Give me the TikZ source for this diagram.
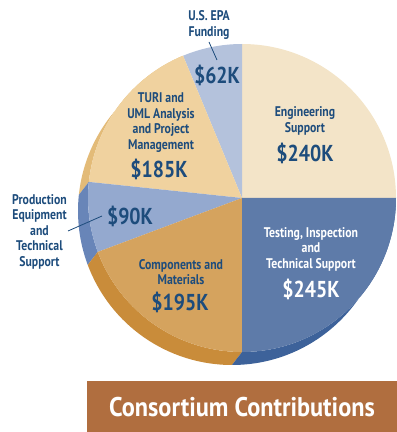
\documentclass[tikz,border=0pt]{standalone}
\usepackage{fontspec}
\setmainfont{PT Sans}
\newfontfamily\piefont[FakeStretch=0.84]{PT Sans}
\newfontfamily\valfont[FakeStretch=0.86]{PT Sans}
\newfontfamily\bannerfont[FakeStretch=0.9]{PT Sans}

\definecolor{textblue}{HTML}{1D4C7C}
\definecolor{engtop}{HTML}{F3E4C8}
\definecolor{testtop}{HTML}{5E7BA9}
\definecolor{testside}{HTML}{3D629A}
\definecolor{comptop}{HTML}{D5A35E}
\definecolor{compside}{HTML}{C98C3A}
\definecolor{ninetytop}{HTML}{94A9CF}
\definecolor{ninetyside}{HTML}{6885B8}
\definecolor{turitop}{HTML}{F0D29F}
\definecolor{turiside}{HTML}{E3BB78}
\definecolor{epatop}{HTML}{B4C2DC}
\definecolor{bannerbrown}{HTML}{B06E3F}

\begin{document}
\begin{tikzpicture}[x=1pt, y=1pt]

    \tikzset{lbl/.style={text=textblue, align=center, font=\piefont\bfseries\fontsize{14}{15.5}\selectfont, inner sep=0pt}}
    \tikzset{val/.style={text=textblue, font=\valfont\bfseries\fontsize{23}{25}\selectfont, inner sep=0pt}}
    \tikzset{leader/.style={draw=textblue, line width=0.8pt}}

    \useasboundingbox (0,0) rectangle (397,432);

    \coordinate (c) at (242,234);
    \coordinate (cs) at (232,221);

    % Lados del pastel.
    \fill[turiside] ([shift={(112.5:154)}]c) arc[start angle=112.5, end angle=174, radius=154]
        -- ([shift={(174:154)}]cs) arc[start angle=174, end angle=112.5, radius=154] -- cycle;
    \fill[ninetyside] ([shift={(174:154)}]c) arc[start angle=174, end angle=200.5, radius=154]
        -- ([shift={(200.5:154)}]cs) arc[start angle=200.5, end angle=174, radius=154] -- cycle;
    \fill[compside] ([shift={(200.5:154)}]c) arc[start angle=200.5, end angle=270, radius=154]
        -- ([shift={(270:154)}]cs) arc[start angle=270, end angle=200.5, radius=154] -- cycle;
    \fill[testside] ([shift={(270:154)}]c) arc[start angle=270, end angle=360, radius=154]
        -- ([shift={(360:154)}]cs) arc[start angle=360, end angle=270, radius=154] -- cycle;

    % Caras superiores.
    \fill[engtop] (c) -- ++(0:154) arc[start angle=0, end angle=90, radius=154] -- cycle;
    \fill[epatop] (c) -- ++(90:154) arc[start angle=90, end angle=112.5, radius=154] -- cycle;
    \fill[turitop] (c) -- ++(112.5:154) arc[start angle=112.5, end angle=174, radius=154] -- cycle;
    \fill[ninetytop] (c) -- ++(174:154) arc[start angle=174, end angle=200.5, radius=154] -- cycle;
    \fill[comptop] (c) -- ++(200.5:154) arc[start angle=200.5, end angle=270, radius=154] -- cycle;
    \fill[testtop] (c) -- ++(270:154) arc[start angle=270, end angle=360, radius=154] -- cycle;

    \node[lbl] (epalbl) at (209,407) {U.S. EPA\\Funding};
    \node[val] (epaval) at (217,357) {\$62K};

    \node[lbl] (englbl) at (305,311) {Engineering\\Support};
    \node[val] (engval) at (305,279) {\$240K};

    \node[lbl] (turilbl) at (161,309.5) {TURI and\\UML Analysis\\and Project\\Management};
    \node[val] (turival) at (159,263) {\$185K};

    \node[val] (ninetyval) at (130,216) {\$90K};
    \node[lbl] (prodlbl) at (39.5,200.5) {Production\\Equipment\\and\\Technical\\Support};

    \node[lbl] (complbl) at (181,160) {Components and\\Materials};
    \node[val] (compval) at (180,130) {\$195K};

    \node[lbl, text=white] (testlbl) at (311,183) {Testing, Inspection\\and\\Technical Support};
    \node[val, text=white] (testval) at (311,143) {\$245K};

    % Nodos artificiales.
    \coordinate (epa-a) at (209,390);
    \coordinate (epa-b) at (217,372);
    \coordinate (prod-a) at (68,201);
    \coordinate (prod-b) at (102,216);
    \draw[leader] (epa-a) -- (epa-b);
    \draw[leader] (prod-a) -- (prod-b);

    \fill[bannerbrown] (87,0) rectangle (397,51);
    \node[text=white, font=\bannerfont\bfseries\fontsize{27}{29}\selectfont, inner sep=0pt] (title) at (242,25) {Consortium Contributions};

\end{tikzpicture}
\end{document}
